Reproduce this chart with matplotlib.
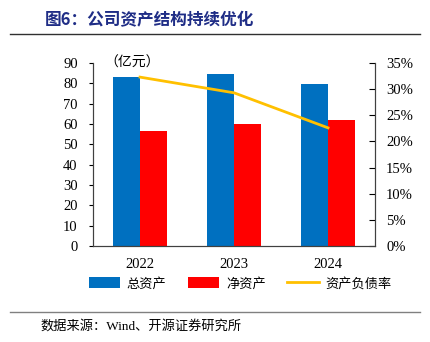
import matplotlib.pyplot as plt
import numpy as np

plt.rcParams['font.family'] = ['Liberation Serif', 'Noto Sans CJK SC']

years = ['2022', '2023', '2024']
total_assets = [83.1, 84.6, 79.8]
net_assets = [56.6, 60.0, 62.0]
debt_ratio = [32.3, 29.3, 22.6]

fig = plt.figure(figsize=(4.3, 3.42), dpi=100)
ax = fig.add_axes([93 / 430, 1 - 246 / 342, 282 / 430, 183 / 342])
ax2 = ax.twinx()

x = np.arange(len(years))
w = 0.29
ax.bar(x - w / 2, total_assets, w, color='#0070C0', label='总资产', zorder=2)
ax.bar(x + w / 2, net_assets, w, color='#FF0000', label='净资产', zorder=2)
ax2.plot(x, debt_ratio, color='#FFC000', lw=2, label='资产负债率')

ax.set_xlim(-0.5, 2.5)
ax.set_ylim(0, 90)
ax.set_yticks(range(0, 91, 10))
ax2.set_ylim(0, 35)
ax2.set_yticks(range(0, 36, 5))
ax2.set_yticklabels([f'{v}%' for v in range(0, 36, 5)])
ax.set_xticks(x)
ax.set_xticklabels(years)

for a in (ax, ax2):
    a.spines['top'].set_visible(False)
    for s in a.spines.values():
        s.set_color('#404040')
ax.tick_params(axis='y', direction='out', length=3, labelsize=10.5, pad=8)
ax.tick_params(axis='x', length=0, labelsize=10.5, pad=9)
ax2.tick_params(axis='y', direction='in', length=4, labelsize=10.5, pad=8)

ax.text(0.04, 1.0, '（亿元）', transform=ax.transAxes, fontsize=10,
        family='Noto Sans CJK SC', va='center', ha='left')

h1, l1 = ax.get_legend_handles_labels()
h2, l2 = ax2.get_legend_handles_labels()
fig.legend(h1 + h2, l1 + l2, loc='center', bbox_to_anchor=(240 / 430, 1 - 284 / 342),
           ncol=3, frameon=False, prop={'family': 'Noto Sans CJK SC', 'size': 9.5},
           handlelength=2.4, handleheight=0.9, columnspacing=1.6, handletextpad=0.5)

fig.text(45 / 430, 1 - 20 / 342, '图6：公司资产结构持续优化', fontsize=12, fontweight='bold',
         color='#1F2D86', family='Noto Sans CJK SC', va='center')
fig.add_artist(plt.Line2D([10 / 430, 420 / 430], [1 - 34 / 342] * 2, color='#303030', lw=1))
fig.add_artist(plt.Line2D([10 / 430, 420 / 430], [1 - 312 / 342] * 2, color='#808080', lw=1))
fig.text(40 / 430, 1 - 326 / 342, '数据来源：Wind、开源证券研究所', fontsize=9.5,
         family=['Liberation Serif', 'Noto Sans CJK SC'], va='center')

fig.savefig('out.png', dpi=100)
